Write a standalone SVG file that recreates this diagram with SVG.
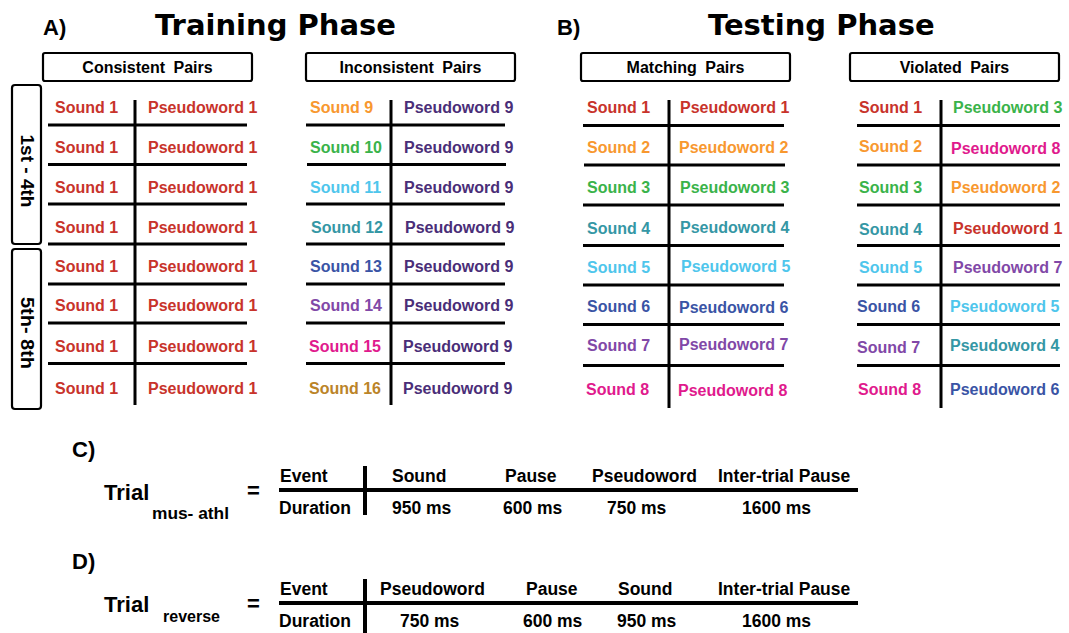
<svg xmlns="http://www.w3.org/2000/svg" width="1069" height="633" viewBox="0 0 1069 633">
  <style>
    .t { font-family: "Liberation Sans", Arial, sans-serif; font-weight: bold; }
    .title { font-family: "DejaVu Sans", Verdana, sans-serif; font-weight: bold; font-size: 29px; fill: #000; }
    .lbl { font-size: 22px; fill: #000; }
    .hdr { font-size: 16px; text-anchor: middle; word-spacing: 4px; fill: #000; }
    .cell { font-size: 16px; }
    .side { font-size: 18px; fill: #000; text-anchor: middle; }
    .tr { font-size: 17.5px; fill: #000; }
    .sub { font-size: 16px; fill: #000; }
    .box { fill: #fff; stroke: #000; stroke-width: 2.2; }
    .rule { stroke: #000; stroke-width: 3; fill: none; }
    .bar { stroke: #000; stroke-width: 4; fill: none; }
    .red { fill: #C8332B; }
    .org { fill: #F8982F; }
    .grn { fill: #3AB34A; }
    .cyn { fill: #4FC6EC; }
    .tea { fill: #3597A5; }
    .blu { fill: #3A54A5; }
    .pur { fill: #8148A7; }
    .mag { fill: #E01A8D; }
    .gld { fill: #BB8428; }
    .dpu { fill: #4A2E78; }
  </style>

  <rect width="1069" height="633" fill="#fff"/>

  <!-- Panel titles -->
  <g id="titles">
    <text class="t lbl" x="43" y="35">A)</text>
    <text class="title" x="155" y="35">Training Phase</text>
    <text class="t lbl" x="557" y="35">B)</text>
    <text class="title" x="708" y="35">Testing Phase</text>
  </g>

  <!-- Block brackets on the left -->
  <g id="block-1-4">
    <rect class="box" x="12" y="85" width="29" height="159" rx="3"/>
    <text class="t side" transform="translate(21 171) rotate(90)" textLength="73" lengthAdjust="spacingAndGlyphs">1st - 4th</text>
  </g>
  <g id="block-5-8">
    <rect class="box" x="12" y="249" width="29" height="160" rx="3"/>
    <text class="t side" transform="translate(21 333) rotate(90)" textLength="72" lengthAdjust="spacingAndGlyphs">5th- 8th</text>
  </g>

  <!-- Consistent pairs -->
  <g id="consistent-pairs">
    <rect class="box" x="43" y="53" width="209" height="28" rx="2"/>
    <text class="t hdr" x="147.5" y="72.5">Consistent Pairs</text>
    <path class="rule" d="M48 125H247M48 164.5H247M48 204H247M48 244H247M48 284H247M48 323H247M48 363.5H247M135 100V405"/>
    <g class="t cell red">
      <text x="55" y="113">Sound 1</text><text x="148" y="113">Pseudoword 1</text>
      <text x="55" y="152.5">Sound 1</text><text x="148" y="152.5">Pseudoword 1</text>
      <text x="55" y="192.5">Sound 1</text><text x="148" y="192.5">Pseudoword 1</text>
      <text x="55" y="232.5">Sound 1</text><text x="148" y="232.5">Pseudoword 1</text>
      <text x="55" y="271.5">Sound 1</text><text x="148" y="271.5">Pseudoword 1</text>
      <text x="55" y="311">Sound 1</text><text x="148" y="311">Pseudoword 1</text>
      <text x="55" y="351.5">Sound 1</text><text x="148" y="351.5">Pseudoword 1</text>
      <text x="55" y="394">Sound 1</text><text x="148" y="394">Pseudoword 1</text>
    </g>
  </g>

  <!-- Inconsistent pairs -->
  <g id="inconsistent-pairs">
    <rect class="box" x="306" y="53" width="209" height="28" rx="2"/>
    <text class="t hdr" x="410.5" y="72.5">Inconsistent Pairs</text>
    <path class="rule" d="M306 125H505M307 164.5H506M306 204H505M306 244H505M306 284H505M306 323H505M306 363.5H505M391 100V405"/>
    <g class="t cell">
      <text class="org" x="310" y="113">Sound 9</text>
      <text class="grn" x="310" y="152.5">Sound 10</text>
      <text class="cyn" x="310" y="192.5">Sound 11</text>
      <text class="tea" x="311" y="232.5">Sound 12</text>
      <text class="blu" x="310" y="271.5">Sound 13</text>
      <text class="pur" x="310" y="311">Sound 14</text>
      <text class="mag" x="309" y="351.5">Sound 15</text>
      <text class="gld" x="309" y="394">Sound 16</text>
    </g>
    <g class="t cell dpu">
      <text x="404" y="113">Pseudoword 9</text>
      <text x="404" y="152.5">Pseudoword 9</text>
      <text x="404" y="192.5">Pseudoword 9</text>
      <text x="405" y="232.5">Pseudoword 9</text>
      <text x="404" y="271.5">Pseudoword 9</text>
      <text x="404" y="311">Pseudoword 9</text>
      <text x="403" y="351.5">Pseudoword 9</text>
      <text x="403" y="394">Pseudoword 9</text>
    </g>
  </g>

  <!-- Matching pairs -->
  <g id="matching-pairs">
    <rect class="box" x="581" y="53" width="209" height="28" rx="2"/>
    <text class="t hdr" x="685.5" y="72.5">Matching Pairs</text>
    <path class="rule" d="M583 125.5H784M584 165H785M583 205H784M583 245.5H784M583 285H784M583 324.5H784M583 365.5H784M669 100V408"/>
    <g class="t cell">
      <text class="red" x="587" y="113">Sound 1</text><text class="red" x="680" y="113">Pseudoword 1</text>
      <text class="org" x="587" y="153">Sound 2</text><text class="org" x="679" y="153">Pseudoword 2</text>
      <text class="grn" x="587" y="192.5">Sound 3</text><text class="grn" x="680" y="193">Pseudoword 3</text>
      <text class="tea" x="587" y="234">Sound 4</text><text class="tea" x="680" y="233">Pseudoword 4</text>
      <text class="cyn" x="587" y="273">Sound 5</text><text class="cyn" x="681" y="272">Pseudoword 5</text>
      <text class="blu" x="587" y="311.5">Sound 6</text><text class="blu" x="679" y="312.5">Pseudoword 6</text>
      <text class="pur" x="587" y="351">Sound 7</text><text class="pur" x="679" y="349.5">Pseudoword 7</text>
      <text class="mag" x="586" y="394.5">Sound 8</text><text class="mag" x="678" y="395.5">Pseudoword 8</text>
    </g>
  </g>

  <!-- Violated pairs -->
  <g id="violated-pairs">
    <rect class="box" x="850" y="53" width="209" height="28" rx="2"/>
    <text class="t hdr" x="954.5" y="72.5">Violated Pairs</text>
    <path class="rule" d="M857 125.5H1060M857 165H1060M857 205H1060M857 245.5H1060M857 285H1060M857 324.5H1060M857 365.5H1060M941 100V408"/>
    <g class="t cell">
      <text class="red" x="859" y="113">Sound 1</text><text class="grn" x="953" y="113">Pseudoword 3</text>
      <text class="org" x="859" y="152">Sound 2</text><text class="mag" x="951" y="154">Pseudoword 8</text>
      <text class="grn" x="859" y="192.5">Sound 3</text><text class="org" x="951" y="193">Pseudoword 2</text>
      <text class="tea" x="859" y="235">Sound 4</text><text class="red" x="953" y="234">Pseudoword 1</text>
      <text class="cyn" x="859" y="272.5">Sound 5</text><text class="pur" x="953" y="272.5">Pseudoword 7</text>
      <text class="blu" x="857" y="311.5">Sound 6</text><text class="cyn" x="950" y="311.5">Pseudoword 5</text>
      <text class="pur" x="857" y="353">Sound 7</text><text class="tea" x="950" y="350.5">Pseudoword 4</text>
      <text class="mag" x="858" y="394.5">Sound 8</text><text class="blu" x="950" y="394.5">Pseudoword 6</text>
    </g>
  </g>

  <!-- C) trial timeline -->
  <g id="trial-mus-athl">
    <text class="t lbl" x="72" y="457">C)</text>
    <text class="t lbl" x="104" y="500">Trial</text>
    <text class="t sub" x="152" y="519" textLength="77" lengthAdjust="spacingAndGlyphs">mus- athl</text>
    <text class="t lbl" x="247" y="498">=</text>
    <path class="bar" d="M279 490H858M365 466V515"/>
    <g class="t tr">
      <text x="280" y="482">Event</text>
      <text x="392" y="482">Sound</text>
      <text x="505" y="482">Pause</text>
      <text x="592" y="482">Pseudoword</text>
      <text x="718" y="482">Inter-trial Pause</text>
      <text x="279" y="514">Duration</text>
      <text x="392" y="514">950 ms</text>
      <text x="503" y="514">600 ms</text>
      <text x="607" y="514">750 ms</text>
      <text x="742" y="514">1600 ms</text>
    </g>
  </g>

  <!-- D) reversed trial timeline -->
  <g id="trial-reverse">
    <text class="t lbl" x="72" y="569">D)</text>
    <text class="t lbl" x="104" y="612">Trial</text>
    <text class="t sub" x="163" y="622">reverse</text>
    <text class="t lbl" x="247" y="611">=</text>
    <path class="bar" d="M279 603H858M365 579V633"/>
    <g class="t tr">
      <text x="280" y="595">Event</text>
      <text x="380" y="595">Pseudoword</text>
      <text x="526" y="595">Pause</text>
      <text x="618" y="595">Sound</text>
      <text x="718" y="595">Inter-trial Pause</text>
      <text x="279" y="627">Duration</text>
      <text x="400" y="627">750 ms</text>
      <text x="523" y="627">600 ms</text>
      <text x="617" y="627">950 ms</text>
      <text x="742" y="627">1600 ms</text>
    </g>
  </g>
</svg>
